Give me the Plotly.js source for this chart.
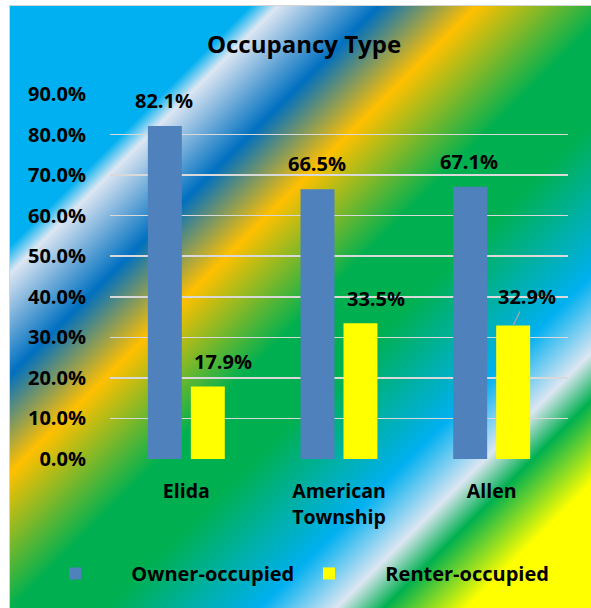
<!DOCTYPE html>
<html>
<head>
<meta charset="utf-8">
<script src="https://cdn.plot.ly/plotly-3.0.1.min.js"></script>
<style>
  html, body { margin: 0; padding: 0; background: #ffffff; width: 591px; height: 608px; overflow: hidden; }
  #bg {
    position: absolute; left: 9px; top: 5px; width: 582px; height: 603px;
    box-sizing: border-box; border-left: 1px solid #D4D4D4; border-top: 1px solid #D4D4D4;
    background: linear-gradient(135deg,
      #00B0F0 0%, #00B0F0 20.3%, #DCE6F2 22.6%, #0070C0 31.2%, #FFC000 39.5%,
      #00B050 51%, #00B050 59%, #00B0F0 72%, #DCE6F2 78.5%, #00B050 82.5%, #FFFF00 89.5%, #FFFF00 100%);
  }
  #chart { position: absolute; left: 0; top: 0; width: 591px; height: 608px; }
</style>
</head>
<body>
<div id="bg"></div>
<div id="chart"></div>
<script>
// ---- data ----
var categories = ['Elida', 'American Township', 'Allen'];
var tickLabels = ['Elida', 'American<br>Township', 'Allen'];
var seriesNames = ['Owner-occupied', 'Renter-occupied'];
var ownerValues = [0.821, 0.665, 0.671];
var renterValues = [0.179, 0.335, 0.329];
var yTickValues = [0, 0.1, 0.2, 0.3, 0.4, 0.5, 0.6, 0.7, 0.8, 0.9];
var titleText = 'Occupancy Type';

// ---- styles ----
var FONT = 'Open Sans, sans-serif';
var ownerColor = '#4F81BD';
var renterColor = '#FFFF00';
var NBSP = '\u00A0';
function pad(n) { return new Array(n + 1).join(NBSP); }

var traces = [
  {
    type: 'bar', name: pad(7) + seriesNames[0], x: categories, y: ownerValues,
    marker: { color: ownerColor }, hoverinfo: 'none'
  },
  {
    type: 'bar', name: pad(7) + seriesNames[1], x: categories, y: renterValues,
    marker: { color: renterColor }, hoverinfo: 'none'
  }
];

function pct(v) { return (v * 100).toFixed(1) + '%'; }

var labelFont = { family: FONT, size: 20, color: '#000000', weight: 'bold' };
var annotations = [];
var barOffset = 21.5;
ownerValues.forEach(function (v, i) {
  annotations.push({
    x: categories[i], y: v, xref: 'x', yref: 'y', text: pct(v),
    showarrow: false, xshift: -barOffset - 1, yshift: 25.5, yanchor: 'middle', xanchor: 'center',
    font: labelFont
  });
});
renterValues.forEach(function (v, i) {
  var withLeader = (i === 2);
  var a = {
    x: categories[i], y: v, xref: 'x', yref: 'y', text: pct(v),
    xshift: barOffset, xanchor: 'center', yanchor: 'middle',
    font: labelFont
  };
  if (withLeader) {
    a.showarrow = true; a.ax = 14; a.ay = -29; a.arrowhead = 0;
    a.arrowcolor = '#A6A6A6'; a.arrowwidth = 1.3; a.standoff = 0;
  } else {
    a.showarrow = false; a.xshift = barOffset + 15.5; a.yshift = 25;
  }
  annotations.push(a);
});

var plotL = 110, plotR = 568, plotT = 94.2, plotB = 458.7;
var plotW = plotR - plotL, plotH = plotB - plotT;

var layout = {
  width: 591, height: 608,
  margin: { l: plotL, r: 591 - plotR, t: plotT, b: 608 - plotB, pad: 0, autoexpand: false },
  paper_bgcolor: 'rgba(0,0,0,0)',
  plot_bgcolor: 'rgba(0,0,0,0)',
  title: {
    text: '<b>' + titleText + '</b>',
    font: { family: FONT, size: 24, color: '#000000' },
    xref: 'container', x: 304 / 591, xanchor: 'center',
    yref: 'container', y: 1 - 44.6 / 608, yanchor: 'middle'
  },
  barmode: 'group',
  bargap: 0.437,
  bargroupgap: 0.21,
  xaxis: {
    type: 'category',
    tickvals: categories, ticktext: tickLabels,
    ticks: 'outside', ticklen: 15, tickcolor: 'rgba(0,0,0,0)',
    tickfont: { family: FONT, size: 19.5, color: '#000000', weight: 'bold' },
    showgrid: false, zeroline: false, showline: false
  },
  yaxis: {
    range: [0, 0.9], tickvals: yTickValues, tickformat: '.1%',
    ticks: 'outside', ticklen: 19, tickcolor: 'rgba(0,0,0,0)',
    tickfont: { family: FONT, size: 20, color: '#000000', weight: 'bold' },
    showgrid: true, gridcolor: '#D9D9D9', gridwidth: 1.6,
    zeroline: false, showline: false
  },
  showlegend: true,
  legend: {
    orientation: 'h',
    xref: 'paper', x: (55 - plotL) / plotW, xanchor: 'left',
    yref: 'paper', y: (plotB - 573) / plotH, yanchor: 'middle',
    itemwidth: 30, entrywidth: 209, entrywidthmode: 'pixels',
    bgcolor: 'rgba(0,0,0,0)', borderwidth: 0,
    font: { family: FONT, size: 20, color: '#000000', weight: 'bold' },
    itemclick: false, itemdoubleclick: false
  },
  annotations: annotations
};

Plotly.newPlot('chart', traces, layout, { displayModeBar: false, staticPlot: true });
</script>
</body>
</html>
